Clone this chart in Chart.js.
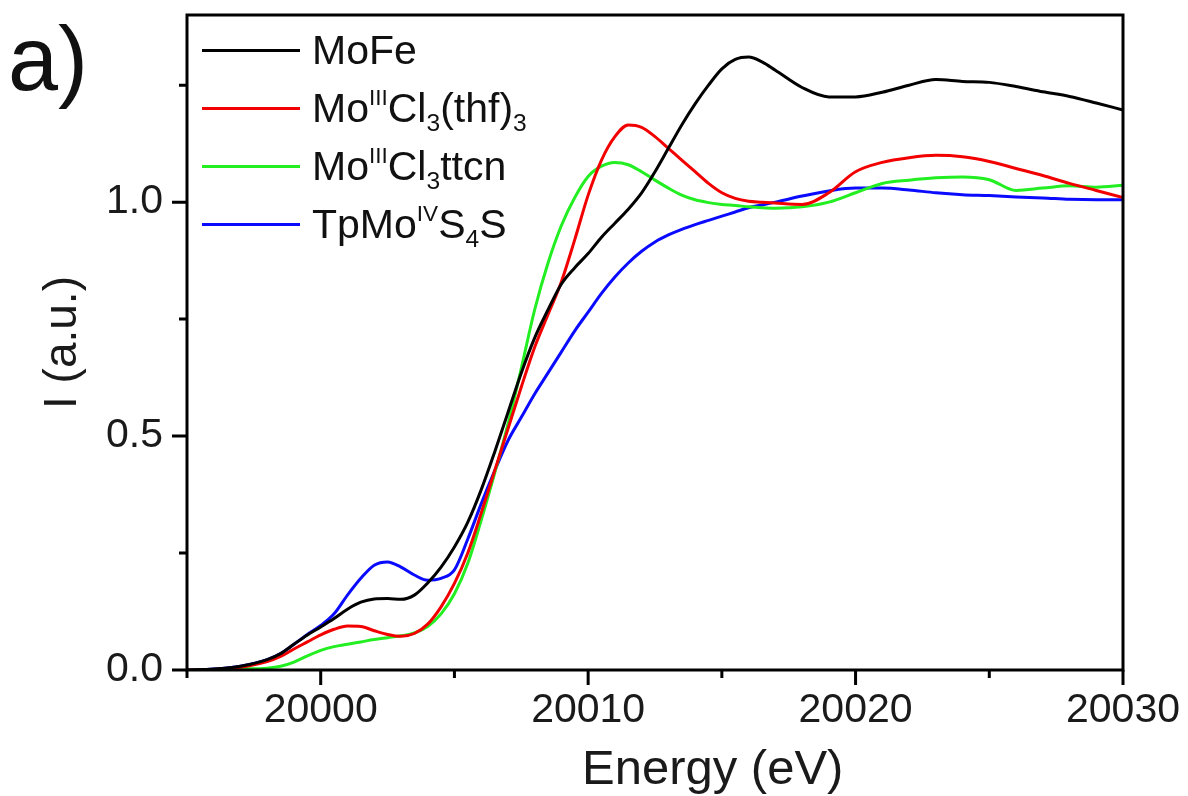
<!DOCTYPE html>
<html>
<head>
<meta charset="utf-8">
<title>Mo K-edge XAS</title>
<script src="https://cdn.jsdelivr.net/npm/chart.js@4.4.1/dist/chart.umd.min.js"></script>
<style>
  html, body { margin: 0; padding: 0; background: #fff; }
  #wrap { position: relative; width: 1188px; height: 796px; overflow: hidden; }
  #plot { position: absolute; left: 0; top: 0; }
  .panel-tag { position: absolute; left: 8px; top: 8px; font: 90px "Liberation Sans", Arial, sans-serif; color: #111; }
  .x-title { position: absolute; left: 582px; top: 743px; font: 49px/1 "Liberation Sans", Arial, sans-serif; color: #1a1a1a; white-space: nowrap; }
  #legend { position: absolute; left: 202px; top: 21px; font: 41px "Liberation Sans", Arial, sans-serif; color: #111; }
  #legend .row { display: flex; align-items: center; height: 58px; white-space: nowrap; }
  #legend .swatch { width: 98px; height: 3px; margin-right: 12px; }
  #legend sup { font-size: 0.55em; vertical-align: 0.75em; line-height: 0; }
  #legend sub { font-size: 0.6em; vertical-align: -0.35em; line-height: 0; }
</style>
</head>
<body>
<div id="wrap">
  <canvas id="plot" width="1188" height="796"></canvas>
  <div class="panel-tag">a)</div>
  <div class="x-title">Energy (eV)</div>
  <div id="legend"></div>
</div>
<script>
// Mo K-edge spectra, energy in eV
const energy = [
  19995, 19996, 19997, 19998, 19998.5, 19999, 19999.5, 20000, 20000.5, 20001,
  20001.5, 20002, 20002.5, 20003, 20003.5, 20004, 20004.5, 20005, 20005.5, 20006,
  20006.5, 20007, 20007.5, 20008, 20008.5, 20009, 20009.5, 20010, 20010.5, 20011,
  20011.5, 20012, 20012.5, 20013, 20013.5, 20014, 20014.5, 20015, 20015.5, 20016,
  20016.5, 20017, 20018, 20019, 20020, 20021, 20022, 20023, 20024, 20025,
  20026, 20027, 20028, 20029, 20030
];

const moFe = [
  0.000, 0.002, 0.008, 0.022, 0.035, 0.055, 0.075, 0.092, 0.110, 0.130,
  0.145, 0.152, 0.153, 0.151, 0.160, 0.186, 0.220, 0.263, 0.316, 0.385,
  0.465, 0.550, 0.635, 0.710, 0.770, 0.825, 0.860, 0.890, 0.925, 0.955,
  0.985, 1.020, 1.065, 1.115, 1.165, 1.210, 1.250, 1.285, 1.305, 1.310,
  1.300, 1.282, 1.245, 1.225, 1.225, 1.235, 1.250, 1.262, 1.258, 1.256,
  1.247, 1.236, 1.226, 1.212, 1.197
];

const moCl3Thf = [
  0.000, 0.001, 0.006, 0.018, 0.029, 0.045, 0.060, 0.075, 0.087, 0.094,
  0.093, 0.084, 0.076, 0.072, 0.078, 0.098, 0.135, 0.185, 0.250, 0.335,
  0.425, 0.515, 0.605, 0.690, 0.760, 0.830, 0.920, 1.015, 1.090, 1.140,
  1.165, 1.160, 1.140, 1.115, 1.090, 1.065, 1.040, 1.020, 1.008, 1.002,
  1.000, 0.998, 0.995, 1.020, 1.065, 1.085, 1.095, 1.100, 1.097, 1.087,
  1.072, 1.057, 1.040, 1.025, 1.010
];

const moCl3Ttcn = [
  0.000, 0.000, 0.002, 0.004, 0.008, 0.017, 0.030, 0.042, 0.050, 0.055,
  0.060, 0.065, 0.069, 0.073, 0.079, 0.093, 0.120, 0.163, 0.228, 0.320,
  0.420, 0.525, 0.645, 0.770, 0.870, 0.950, 1.010, 1.055, 1.077, 1.085,
  1.080, 1.065, 1.047, 1.030, 1.015, 1.005, 0.999, 0.995, 0.993, 0.990,
  0.988, 0.987, 0.990, 1.000, 1.020, 1.040, 1.047, 1.052, 1.054, 1.048,
  1.025, 1.030, 1.035, 1.032, 1.036
];

const tpMoS4S = [
  0.000, 0.002, 0.008, 0.022, 0.035, 0.055, 0.076, 0.095, 0.120, 0.160,
  0.196, 0.224, 0.231, 0.220, 0.203, 0.192, 0.196, 0.214, 0.280, 0.355,
  0.425, 0.490, 0.540, 0.590, 0.635, 0.680, 0.725, 0.765, 0.805, 0.840,
  0.870, 0.895, 0.915, 0.930, 0.942, 0.952, 0.961, 0.970, 0.979, 0.988,
  0.994, 1.000, 1.013, 1.024, 1.030, 1.030, 1.026, 1.020, 1.016, 1.014,
  1.011, 1.009, 1.006, 1.005, 1.005
];

const seriesValues = [moFe, moCl3Thf, moCl3Ttcn, tpMoS4S];
const seriesLabels = ['MoFe', 'MoIIICl3(thf)3', 'MoIIICl3ttcn', 'TpMoIVS4S'];
const seriesMarkup = [
  'MoFe',
  'Mo<sup>III</sup>Cl<sub>3</sub>(thf)<sub>3</sub>',
  'Mo<sup>III</sup>Cl<sub>3</sub>ttcn',
  'TpMo<sup>IV</sup>S<sub>4</sub>S'
];
const seriesColors = ['#000000', '#f20000', '#22ee22', '#0a0aff'];

// axis ticks
const xMajorTicks = [20000, 20010, 20020, 20030];
const xMinorTicks = [19995, 20005, 20015, 20025];
const yMajorTicks = [0, 0.5, 1.0];
const yMinorTicks = [0.25, 0.75, 1.25];

const FONT = '"Liberation Sans", Arial, sans-serif';

// keep the plot box fixed: no extra room for overhanging tick labels
function noOverhang(s) {
    s.paddingLeft = 0;
    s.paddingRight = 0;
    s.paddingTop = 0;
    s.paddingBottom = 0;
}

// box around the plot area plus outward tick marks
const frameTicks = {
    id: 'frameTicks',
    afterDraw(chart) {
        const ctx = chart.ctx;
        const a = chart.chartArea;
        const xs = chart.scales.x;
        const ys = chart.scales.y;
        ctx.save();
        ctx.strokeStyle = '#000';
        ctx.lineWidth = 3;
        ctx.strokeRect(a.left, a.top, a.right - a.left, a.bottom - a.top);
        ctx.beginPath();
        xMajorTicks.forEach(v => {
            const px = xs.getPixelForValue(v);
            ctx.moveTo(px, a.bottom); ctx.lineTo(px, a.bottom + 15);
        });
        xMinorTicks.forEach(v => {
            const px = xs.getPixelForValue(v);
            ctx.moveTo(px, a.bottom); ctx.lineTo(px, a.bottom + 8);
        });
        yMajorTicks.forEach(v => {
            const py = ys.getPixelForValue(v);
            ctx.moveTo(a.left, py); ctx.lineTo(a.left - 15, py);
        });
        yMinorTicks.forEach(v => {
            const py = ys.getPixelForValue(v);
            ctx.moveTo(a.left, py); ctx.lineTo(a.left - 8, py);
        });
        ctx.stroke();
        ctx.restore();
    }
};

const ctx = document.getElementById('plot').getContext('2d');
const chart = new Chart(ctx, {
    type: 'line',
    data: {
        datasets: seriesValues.map((vals, i) => ({
            label: seriesLabels[i],
            data: energy.map((e, j) => ({ x: e, y: vals[j] })),
            borderColor: seriesColors[i],
            borderWidth: 3,
            pointRadius: 0,
            fill: false,
            cubicInterpolationMode: 'monotone'
        }))
    },
    options: {
        responsive: false,
        animation: false,
        layout: { padding: { left: 0, top: 15, right: 65, bottom: 0 } },
        plugins: {
            legend: { display: false },
            tooltip: { enabled: false }
        },
        scales: {
            x: {
                type: 'linear',
                min: 19995,
                max: 20030,
                afterFit: s => { s.height = 126; noOverhang(s); },
                grid: { display: false, drawTicks: false },
                border: { display: false },
                ticks: {
                    stepSize: 5,
                    autoSkip: false,
                    maxRotation: 0,
                    padding: 16,
                    color: '#1a1a1a',
                    font: { family: FONT, size: 41 },
                    callback: v => (v % 10 === 0 ? String(v) : '')
                }
            },
            y: {
                min: 0,
                max: 1.4,
                afterFit: s => { s.width = 187; noOverhang(s); },
                grid: { display: false, drawTicks: false },
                border: { display: false },
                ticks: {
                    stepSize: 0.25,
                    padding: 24,
                    color: '#1a1a1a',
                    font: { family: FONT, size: 41 },
                    callback: v => (yMajorTicks.includes(v) ? v.toFixed(1) : '')
                },
                title: {
                    display: true,
                    text: 'I (a.u.)',
                    color: '#1a1a1a',
                    font: { family: FONT, size: 46 },
                    padding: { top: 36, bottom: 0 }
                }
            }
        }
    },
    plugins: [frameTicks]
});

// legend with super/subscripts
const legend = document.getElementById('legend');
chart.data.datasets.forEach((ds, i) => {
    const row = document.createElement('div');
    row.className = 'row';
    row.innerHTML = '<span class="swatch" style="background:' + ds.borderColor + '"></span><span>' + seriesMarkup[i] + '</span>';
    legend.appendChild(row);
});
</script>
</body>
</html>
